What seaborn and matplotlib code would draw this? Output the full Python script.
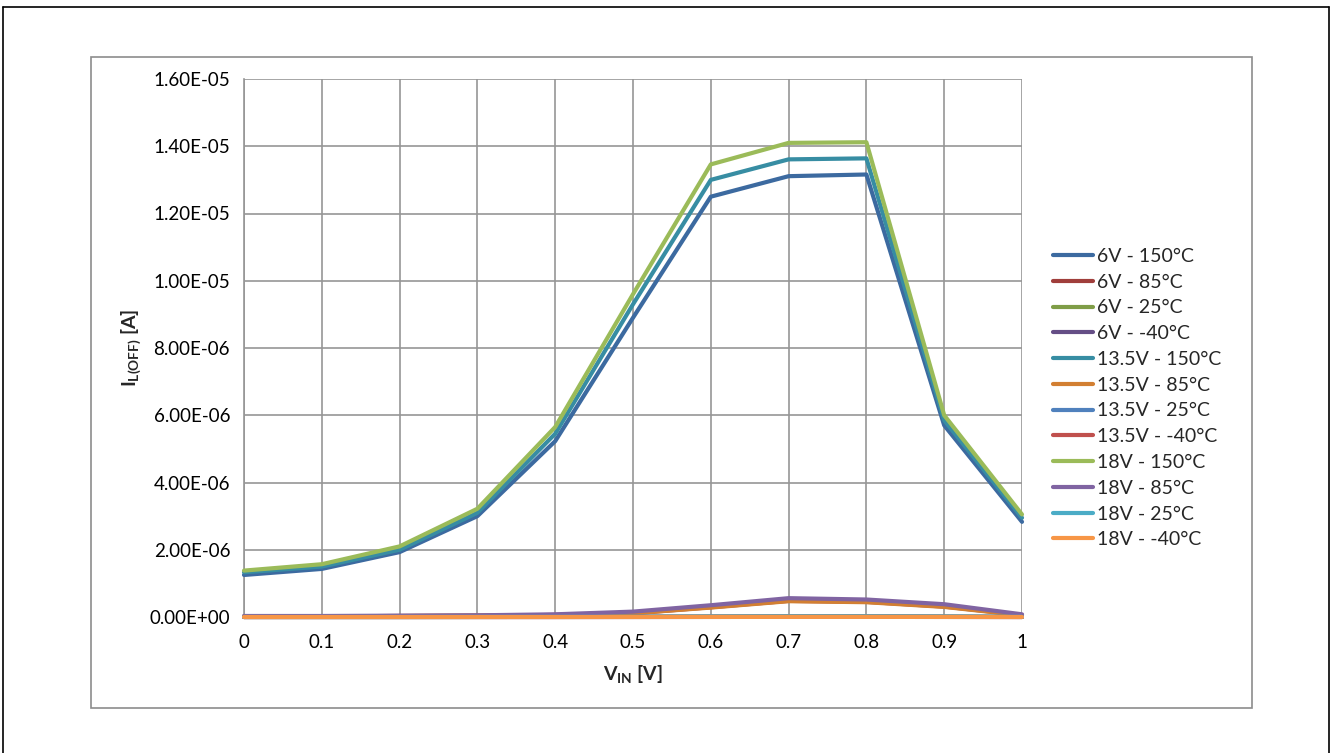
import numpy as np
import pandas as pd
import matplotlib
matplotlib.use("Agg")
import matplotlib.pyplot as plt
import seaborn as sns
from matplotlib.patches import Rectangle
from matplotlib.lines import Line2D

vin = [0, 0.1, 0.2, 0.3, 0.4, 0.5, 0.6, 0.7, 0.8, 0.9, 1.0]

series_names = ["6V - 150°C", "6V - 85°C", "6V - 25°C", "6V - -40°C",
                "13.5V - 150°C", "13.5V - 85°C", "13.5V - 25°C", "13.5V - -40°C",
                "18V - 150°C", "18V - 85°C", "18V - 25°C", "18V - -40°C"]

v6_150 = [1.25e-6, 1.43e-6, 1.93e-6, 3.00e-6, 5.23e-6, 8.90e-6, 1.250e-5, 1.311e-5, 1.316e-5, 5.70e-6, 2.83e-6]
v6_85 = [2.0e-8, 2.0e-8, 3.0e-8, 4.0e-8, 6.0e-8, 1.1e-7, 2.9e-7, 4.8e-7, 4.5e-7, 3.1e-7, 6.0e-8]
v6_25 = [1.0e-9, 1.0e-9, 1.0e-9, 2.0e-9, 3.0e-9, 5.0e-9, 1.0e-8, 1.5e-8, 1.5e-8, 1.0e-8, 3.0e-9]
v6_m40 = [0.0, 0.0, 0.0, 0.0, 0.0, 1.0e-9, 2.0e-9, 3.0e-9, 3.0e-9, 2.0e-9, 0.0]
v13_150 = [1.33e-6, 1.50e-6, 2.00e-6, 3.10e-6, 5.45e-6, 9.30e-6, 1.300e-5, 1.361e-5, 1.364e-5, 5.85e-6, 2.95e-6]
v13_85 = [2.0e-8, 2.0e-8, 3.0e-8, 4.0e-8, 6.0e-8, 1.1e-7, 2.8e-7, 4.7e-7, 4.4e-7, 3.0e-7, 5.0e-8]
v13_25 = [1.0e-9, 1.0e-9, 1.0e-9, 2.0e-9, 3.0e-9, 5.0e-9, 1.0e-8, 1.5e-8, 1.5e-8, 1.0e-8, 3.0e-9]
v13_m40 = [0.0, 0.0, 0.0, 0.0, 0.0, 1.0e-9, 2.0e-9, 3.0e-9, 3.0e-9, 2.0e-9, 0.0]
v18_150 = [1.38e-6, 1.57e-6, 2.10e-6, 3.22e-6, 5.65e-6, 9.60e-6, 1.346e-5, 1.410e-5, 1.412e-5, 6.00e-6, 3.05e-6]
v18_85 = [3.0e-8, 3.0e-8, 4.0e-8, 5.0e-8, 8.0e-8, 1.6e-7, 3.5e-7, 5.6e-7, 5.2e-7, 3.8e-7, 8.0e-8]
v18_25 = [1.0e-9, 1.0e-9, 1.0e-9, 2.0e-9, 3.0e-9, 5.0e-9, 1.0e-8, 1.5e-8, 1.5e-8, 1.0e-8, 3.0e-9]
v18_m40 = [0.0, 0.0, 0.0, 0.0, 0.0, 1.0e-9, 2.0e-9, 3.0e-9, 3.0e-9, 2.0e-9, 0.0]

all_values = [v6_150, v6_85, v6_25, v6_m40, v13_150, v13_85, v13_25, v13_m40,
              v18_150, v18_85, v18_25, v18_m40]

colors = ["#3C6AA0", "#A03E3B", "#7F9D47", "#654E86", "#378DA3", "#D27F32",
          "#4F81BD", "#C0504D", "#9BBB59", "#8064A2", "#4BACC6", "#F79646"]

yticks = [0, 2e-6, 4e-6, 6e-6, 8e-6, 1e-5, 1.2e-5, 1.4e-5, 1.6e-5]
ytick_labels = ["0.00E+00", "2.00E-06", "4.00E-06", "6.00E-06", "8.00E-06",
                "1.00E-05", "1.20E-05", "1.40E-05", "1.60E-05"]
xticks = [0, 0.1, 0.2, 0.3, 0.4, 0.5, 0.6, 0.7, 0.8, 0.9, 1.0]
xtick_labels = ["0", "0.1", "0.2", "0.3", "0.4", "0.5", "0.6", "0.7", "0.8", "0.9", "1"]

rows = []
for name, vals in zip(series_names, all_values):
    for x, y in zip(vin, vals):
        rows.append({"VIN": x, "I": y, "Series": name})
df = pd.DataFrame(rows)

sns.set_theme(style="white")
plt.rcParams["font.family"] = ["Lato", "DejaVu Sans"]
plt.rcParams["mathtext.fontset"] = "custom"
plt.rcParams["mathtext.rm"] = "Lato"
plt.rcParams["mathtext.bf"] = "Lato:bold"

W, H = 1331, 753
fig = plt.figure(figsize=(W / 100, H / 100), dpi=100)
fig.patch.set_facecolor("white")

# outer frame lines and inner chart-area box
fig.add_artist(Line2D([3 / W, 3 / W], [0, 1 - 7 / H], transform=fig.transFigure, color="black", lw=1.2))
fig.add_artist(Line2D([3 / W, 1329 / W], [1 - 7 / H, 1 - 7 / H], transform=fig.transFigure, color="black", lw=1.2))
fig.add_artist(Line2D([1329 / W, 1329 / W], [0, 1 - 7 / H], transform=fig.transFigure, color="black", lw=1.2))
fig.add_artist(Rectangle((91 / W, 1 - 708 / H), (1252 - 91) / W, (708 - 57) / H,
                         transform=fig.transFigure, fill=False, edgecolor="#8C8C8C", lw=1.2))

ax = fig.add_axes([244 / W, 1 - 617 / H, (1022 - 244) / W, (617 - 79) / H])
sns.lineplot(data=df, x="VIN", y="I", hue="Series", hue_order=series_names,
             palette=colors, linewidth=3.0, ax=ax, legend=False, sort=True,
             estimator=None)
for ln in ax.lines:
    ln.set_clip_on(False)
    ln.set_zorder(3)

ax.set_xlim(0, 1)
ax.set_ylim(0, 1.6e-5)
ax.set_xticks(xticks)
ax.set_xticklabels(xtick_labels, fontsize=13.5)
ax.set_yticks(yticks)
ax.set_yticklabels(ytick_labels, fontsize=13.5)
ax.grid(True, color="#969696", lw=1.2)
ax.set_axisbelow(True)
for s in ["top", "right"]:
    ax.spines[s].set_visible(False)
for s in ["left", "bottom"]:
    ax.spines[s].set_color("#969696")
    ax.spines[s].set_linewidth(1.2)
    ax.spines[s].set_zorder(2)
ax.tick_params(axis="y", direction="out", length=6, color="#969696", width=1.2, pad=4, labelcolor="black")
ax.tick_params(axis="x", direction="out", length=0, pad=12, labelcolor="black")

ax.set_xlabel(r"$\mathbf{V_{IN}}$ [V]", fontsize=14, fontweight="bold", labelpad=9)
ax.set_ylabel(r"$\mathbf{I_{L(OFF)}}$ [A]", fontsize=14, fontweight="bold", labelpad=5)

handles = [Line2D([0], [0], color=c, lw=3.0) for c in colors]
fig.legend(handles, series_names, loc="upper left", bbox_to_anchor=(1053 / W, 1 - 248 / H),
           frameon=False, fontsize=14, handlelength=2.05, handletextpad=0.2,
           labelspacing=0.45, borderaxespad=0, borderpad=0)

fig.savefig("out.png", dpi=100, facecolor="white")
